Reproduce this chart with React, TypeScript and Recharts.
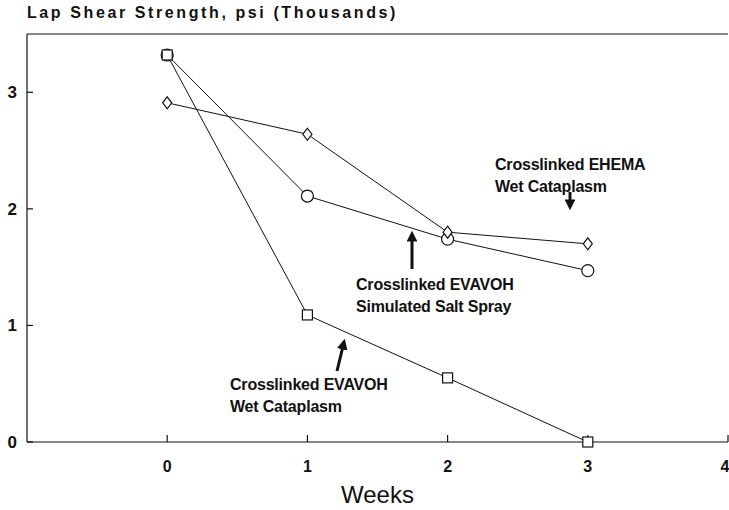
import React from 'react';
import {
  Line,
  LineChart,
  ReferenceLine,
  XAxis,
  YAxis,
  Label,
} from 'recharts';

const weeks = [0, 1, 2, 3];
const saltSpray = [3.32, 2.11, 1.74, 1.47];
const ehemaWet = [2.91, 2.64, 1.8, 1.7];
const evavohWet = [3.32, 1.09, 0.55, 0];

const xTicks = [0, 1, 2, 3, 4];
const yTicks = [0, 1, 2, 3];

const data = weeks.map((w, i) => ({
  week: w,
  salt: saltSpray[i],
  ehema: ehemaWet[i],
  evavoh: evavohWet[i],
}));

const W = 729;
const H = 510;
const INK = '#111';
const FONT = '"Liberation Sans", Arial, sans-serif';

function CircleDot(props: any) {
  const { cx, cy } = props;
  if (cx == null || cy == null) return null;
  return <circle cx={cx} cy={cy} r={6} fill="#fff" stroke={INK} strokeWidth={1.2} />;
}

function DiamondDot(props: any) {
  const { cx, cy } = props;
  if (cx == null || cy == null) return null;
  return (
    <path
      d={`M${cx},${cy - 6} L${cx + 4.5},${cy} L${cx},${cy + 6} L${cx - 4.5},${cy} Z`}
      fill="#fff"
      stroke={INK}
      strokeWidth={1.2}
    />
  );
}

function SquareDot(props: any) {
  const { cx, cy } = props;
  if (cx == null || cy == null) return null;
  return <rect x={cx - 5} y={cy - 5} width={10} height={10} fill="#fff" stroke={INK} strokeWidth={1.2} />;
}

const noteStyle: React.CSSProperties = {
  position: 'absolute',
  fontFamily: FONT,
  fontWeight: 'bold',
  fontSize: 16,
  letterSpacing: -0.2,
  lineHeight: '22px',
  color: INK,
  whiteSpace: 'nowrap',
};

export default function App() {
  return (
    <div style={{ position: 'absolute', left: 0, top: 0, width: W, height: H, background: '#fff', overflow: 'hidden' }}>
      <LineChart
        width={W}
        height={H}
        data={data}
        margin={{ top: 34, right: 1, bottom: 0, left: 0 }}
      >
        <XAxis
          dataKey="week"
          type="number"
          domain={[-1, 4]}
          ticks={xTicks}
          height={68}
          axisLine={{ stroke: INK, strokeWidth: 1.2 }}
          tickLine={{ stroke: INK, strokeWidth: 1.2 }}
          tickSize={-7}
          tickMargin={26}
          tick={{ fill: INK, fontSize: 16, fontWeight: 'bold', fontFamily: FONT }}
        >
          <Label
            value="Weeks"
            position="insideBottom"
            offset={7}
            style={{ fill: INK, fontSize: 24, fontFamily: FONT }}
          />
        </XAxis>
        <YAxis
          type="number"
          domain={[0, 3.5]}
          ticks={yTicks}
          width={27}
          axisLine={{ stroke: INK, strokeWidth: 1.2 }}
          tickLine={{ stroke: INK, strokeWidth: 1.2 }}
          tickSize={-6}
          tickMargin={16}
          tick={{ fill: INK, fontSize: 17, fontWeight: 'bold', fontFamily: FONT }}
        />
        <ReferenceLine y={3.5} stroke={INK} strokeWidth={1.2} />
        <Line
          dataKey="salt"
          stroke={INK}
          strokeWidth={1}
          dot={<CircleDot />}
          isAnimationActive={false}
        />
        <Line
          dataKey="ehema"
          stroke={INK}
          strokeWidth={1}
          dot={<DiamondDot />}
          isAnimationActive={false}
        />
        <Line
          dataKey="evavoh"
          stroke={INK}
          strokeWidth={1}
          dot={<SquareDot />}
          isAnimationActive={false}
        />
      </LineChart>

      <div
        style={{
          position: 'absolute',
          left: 27,
          top: 4,
          fontFamily: FONT,
          fontWeight: 'bold',
          fontSize: 16,
          letterSpacing: 2.6,
          color: INK,
          whiteSpace: 'nowrap',
        }}
      >
        Lap Shear Strength, psi (Thousands)
      </div>

      <div style={{ ...noteStyle, left: 495, top: 154 }}>
        Crosslinked EHEMA
        <br />
        Wet Cataplasm
      </div>
      <div style={{ ...noteStyle, left: 356, top: 274 }}>
        Crosslinked EVAVOH
        <br />
        Simulated Salt Spray
      </div>
      <div style={{ ...noteStyle, left: 230, top: 374 }}>
        Crosslinked EVAVOH
        <br />
        Wet Cataplasm
      </div>

      <svg
        width={W}
        height={H}
        style={{ position: 'absolute', left: 0, top: 0, pointerEvents: 'none' }}
      >
        <defs>
          <marker id="arrowHead" viewBox="0 0 10 10" refX="7" refY="5" markerWidth="3.6" markerHeight="3.6" orient="auto">
            <path d="M0,0 L10,5 L0,10 Z" fill={INK} />
          </marker>
        </defs>
        <line x1={570} y1={192} x2={570} y2={207} stroke={INK} strokeWidth={3} markerEnd="url(#arrowHead)" />
        <line x1={412} y1={269} x2={412} y2={234} stroke={INK} strokeWidth={3} markerEnd="url(#arrowHead)" />
        <line x1={337} y1={371} x2={344} y2={342} stroke={INK} strokeWidth={3} markerEnd="url(#arrowHead)" />
      </svg>
    </div>
  );
}
